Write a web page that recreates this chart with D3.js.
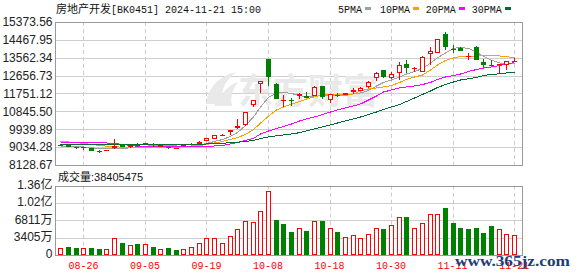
<!DOCTYPE html>
<html><head><meta charset="utf-8">
<script src="https://cdn.jsdelivr.net/npm/d3@7"></script>
<style>body{margin:0;background:#fff}svg{display:block}</style>
</head><body>
<svg id="c" width="578" height="276"></svg>
<script>
// ---------- data ----------
const dates = ["08-21","08-22","08-23","08-26","08-27","08-28","08-29","08-30",
"09-02","09-03","09-04","09-05","09-06","09-09","09-10","09-11","09-12","09-13","09-18","09-19","09-20","09-23","09-24","09-25","09-26","09-27","09-30",
"10-08","10-09","10-10","10-11","10-14","10-15","10-16","10-17","10-18","10-21","10-22","10-23","10-24","10-25","10-28","10-29","10-30","10-31",
"11-01","11-04","11-05","11-06","11-07","11-08","11-11","11-12","11-13","11-14","11-15","11-18","11-19","11-20","11-21"];
const open  = [9090,9157,9020,8975,8990,8830,8823,8975,9190,9025,9150,9195,9190,9040,9030,8960,9115,9210,9190,9345,9460,9640,9820,9990,10140,11169,12216,
13500,12233,11380,11440,11625,11610,11625,12131,11422,11690,11675,11812,11893,12065,12522,12942,12522,12806,
13230,13040,12855,13737,13818,14766,14020,14040,13600,14100,13360,13190,13170,13180,13400];
const high  = [9150,9170,9030,9050,9000,8880,8910,9430,9210,9150,9240,9260,9240,9145,9040,9000,9175,9230,9360,9520,9650,9690,9920,10445,10830,11440,12400,
13520,12260,11675,11540,11780,11840,12110,12150,11740,11760,11780,12015,12060,12365,12820,12960,12855,13362,
13448,13110,13630,14122,14510,14882,14208,14100,13800,14150,13480,13470,13260,13400,13565];
const low   = [9070,9040,8930,8905,8845,8755,8815,8960,9040,9010,9040,9180,9050,9025,8945,8950,9100,9150,9180,9330,9440,9600,9650,9970,10120,11052,11761,
12131,11460,11082,11120,11470,11510,11610,11475,11255,11590,11660,11725,11880,12050,12385,12550,12510,12435,
12775,12855,12840,13195,13800,13955,13787,13890,13450,13430,13090,13140,12790,12940,13330];
const close = [9130,9056,9000,9040,8855,8810,8905,9090,9056,9140,9125,9240,9125,9140,8985,8980,9160,9170,9310,9497,9635,9665,9905,10105,10815,11422,12385,
12602,11488,11420,11400,11725,11540,12096,11590,11726,11660,11760,11929,12045,12350,12806,12572,12740,13195,
13028,13060,13615,13904,14497,14122,13985,13920,13650,13450,13170,13150,13240,13380,13423];
const prevClose = 9080;
const volume = [13.2,15.9,13.9,13.9,13.9,11.9,11.2,33.0,23.8,19.2,21.8,21.2,15.9,11.2,13.9,9.9,11.2,15.2,23.1,33.0,33.0,23.1,37.0,50.9,66.8,64.8,86.6,
126.3,69.4,61.5,45.6,52.9,47.6,66.8,67.4,52.9,45.6,35.0,39.0,33.0,41.0,52.9,51.6,58.8,74.7,
75.4,52.9,62.8,80.6,80.6,93.2,63.5,53.5,51.6,53.5,43.6,56.8,50.9,41.0,38.405475]; // millions
const ma5  = [9066,9066,9051,9041,9001,8965,8940,8940,8965,9001,9041,9077,9117,9132,9117,9092,9082,9092,9132,9218,9320,9421,9573,9776,10130,10561,11068,
11549,11777,11802,11751,11650,11574,11599,11650,11675,11650,11701,11726,11777,11903,12131,12309,12435,12587,
12739,12866,13018,13290,13560,13803,14031,14097,14031,13854,13626,13440,13297,13246,13246];
const ma10 = [9305,9294,9269,9218,9168,9117,9082,9051,9031,9016,9001,8990,8990,9001,9016,9031,9051,9082,9117,9168,9244,9320,9421,9522,9674,9928,10250,
10600,10916,11068,11220,11346,11473,11574,11675,11726,11700,11650,11726,11878,11979,12030,12081,12157,12309,
12461,12587,12689,12942,13195,13423,13550,13626,13651,13651,13677,13677,13651,13626,13550];
const ma20 = [9279,9279,9279,9269,9259,9244,9244,9218,9168,9117,9077,9066,9066,9056,9056,9056,9056,9056,9066,9077,9092,9117,9193,9269,9370,9472,9700,
9852,9978,10080,10206,10358,10460,10561,10688,10814,10916,11017,11118,11220,11422,11625,11827,11929,12030,
12081,12131,12207,12309,12461,12587,12663,12739,12866,12967,13043,13094,13170,13246,13322];
const ma30 = [9185,9183,9181,9180,9179,9178,9178,9178,9178,9178,9178,9178,9178,9178,9178,9178,9178,9178,9183,9193,9208,9229,9259,9279,9320,9370,9472,
9548,9609,9649,9700,9766,9852,9953,10054,10156,10257,10358,10460,10561,10688,10814,10941,11068,11194,
11346,11523,11701,11878,12055,12207,12334,12435,12496,12562,12663,12714,12749,12790,12825];
const priceTickLabels = ["8128.67","9034.28","9939.89","10845.50","11751.12","12656.73","13562.34","14467.95","15373.56"];
const volTickValues = [0, 34.05, 68.11, 102.16, 136.22];
const volTickLabels = ["0","3405万","6811万","1.02亿","1.36亿"];
const xTickLabels = ["08-26","09-05","09-19","10-08","10-18","10-30","11-11","11-21"];
const titleName = "房地产开发", titleRest = "[BK0451] 2024-11-21 15:00";
const volTitle = "成交量", volLastText = ":38405475";
const legendNames = ["5PMA","10PMA","20PMA","30PMA"];
const maSeries = [ma5, ma10, ma20, ma30];

// ---------- layout / style ----------
const L = 55.5, R = 522.5, PT = 22, PB = 165, VT = 185.7, VB = 255;
const RED = "#ff0000", GREEN = "#008000";
const maColors = ["#a0a0a0","#f5a300","#ff00ff","#006b35"];
const svg = d3.select("#c");

const x = d3.scaleBand().domain(dates).range([56.5, 518]);
const bw = x.bandwidth();
const cx = d => Math.round(x(d) + bw / 2);
const priceVals = priceTickLabels.map(Number);
const y = d3.scaleLinear().domain([priceVals[0], priceVals[priceVals.length-1]]).range([PB, PT]);
const yv = d3.scaleLinear().domain([0, volTickValues[volTickValues.length-1]]).range([VB, VT]);

// grids
function hgrid(vals, sc) {
  svg.append("g").selectAll("line").data(vals).join("line")
    .attr("x1", L).attr("x2", R)
    .attr("y1", d => Math.round(sc(d)) + 0.5).attr("y2", d => Math.round(sc(d)) + 0.5)
    .attr("stroke", "#cfcfcf").attr("stroke-width", 1);
}
hgrid(priceVals.slice(1, -1), y);
hgrid(volTickValues.slice(1, -1), yv);
[[PT, PB], [VT, VB]].forEach(([t, b]) => {
  svg.append("g").selectAll("line").data(xTickLabels).join("line")
    .attr("x1", d => cx(d) + 0.5).attr("x2", d => cx(d) + 0.5)
    .attr("y1", t).attr("y2", b)
    .attr("stroke", "#cccccc").attr("stroke-dasharray", "4,3");
});

// watermark
const wm = svg.append("g").attr("fill", "#e9e9e9");
wm.append("path").attr("d", "M206,104 C208,88 218,76 236,72 C226,80 220,90 222,104 Z M214,106 C222,92 230,84 238,82 C232,90 230,98 232,106 Z");
wm.append("text").attr("x", 238).attr("y", 104).attr("font-family", "'Noto Sans CJK SC'")
  .attr("font-weight", "bold").attr("font-size", 35).text("东方财富");

// MA lines
maSeries.forEach((s, k) => {
  svg.append("path").datum(s)
    .attr("d", d3.line().x((v, i) => cx(dates[i]) + 0.5).y(v => y(v)))
    .attr("fill", "none").attr("stroke", maColors[k]).attr("stroke-width", 1)
    .attr("shape-rendering", "crispEdges");
});

// candles
const cg = svg.append("g").attr("shape-rendering", "crispEdges");
dates.forEach((d, i) => {
  const c = cx(d), o = open[i], cl = close[i];
  const up = cl >= o, col = up ? RED : GREEN;
  const top = Math.round(y(Math.max(o, cl))), bot = Math.round(y(Math.min(o, cl)));
  const hi = Math.round(y(high[i])), lo = Math.round(y(low[i]));
  if (bot - top < 2) {
    cg.append("line").attr("x1", c + 0.5).attr("x2", c + 0.5).attr("y1", hi).attr("y2", lo).attr("stroke", col);
    cg.append("rect").attr("x", c - 2).attr("y", top).attr("width", 5).attr("height", Math.max(1, bot - top)).attr("fill", col);
  } else if (up) {
    cg.append("line").attr("x1", c + 0.5).attr("x2", c + 0.5).attr("y1", hi).attr("y2", top).attr("stroke", col);
    cg.append("line").attr("x1", c + 0.5).attr("x2", c + 0.5).attr("y1", bot).attr("y2", lo).attr("stroke", col);
    cg.append("rect").attr("x", c - 1.5).attr("y", top + 0.5).attr("width", 4).attr("height", bot - top - 1)
      .attr("fill", "#fff").attr("stroke", col);
  } else {
    cg.append("line").attr("x1", c + 0.5).attr("x2", c + 0.5).attr("y1", hi).attr("y2", lo).attr("stroke", col);
    cg.append("rect").attr("x", c - 2).attr("y", top).attr("width", 5).attr("height", bot - top).attr("fill", col);
  }
});

// volume bars
const vg = svg.append("g").attr("shape-rendering", "crispEdges");
dates.forEach((d, i) => {
  const c = cx(d), pc = i === 0 ? prevClose : close[i - 1];
  const up = close[i] >= pc;
  const top = Math.round(yv(volume[i]));
  if (up) vg.append("rect").attr("x", c - 1.5).attr("y", top + 0.5).attr("width", 4).attr("height", VB - top - 1)
    .attr("fill", "#fff").attr("stroke", RED);
  else vg.append("rect").attr("x", c - 2).attr("y", top).attr("width", 5).attr("height", VB - top).attr("fill", GREEN);
});

// borders
[[PT, PB], [VT, VB]].forEach(([t, b]) => {
  svg.append("rect").attr("x", L).attr("y", t + 0.5).attr("width", R - L).attr("height", b - t)
    .attr("fill", "none").attr("stroke", "#999999").attr("shape-rendering", "crispEdges");
});

// axes
const ay = svg.append("g").attr("transform", `translate(${L},0)`)
  .call(d3.axisLeft(y).tickValues(priceVals).tickFormat((d, i) => priceTickLabels[i]).tickSize(0).tickPadding(3));
ay.select(".domain").remove();
ay.selectAll("text").attr("font-family", "'Liberation Sans', Arial, sans-serif").attr("font-size", 12).attr("fill", "#222");

const av = svg.append("g").attr("transform", `translate(${L},-1)`)
  .call(d3.axisLeft(yv).tickValues(volTickValues).tickFormat((d, i) => volTickLabels[i]).tickSize(0).tickPadding(3));
av.select(".domain").remove();
av.selectAll("text").attr("font-family", "'Liberation Sans','Noto Sans CJK SC', sans-serif").attr("font-size", 12).attr("fill", "#222");

const ax = svg.append("g").attr("transform", `translate(0,${VB})`)
  .call(d3.axisBottom(x).tickValues(xTickLabels).tickSize(0).tickPadding(7));
ax.select(".domain").remove();
ax.selectAll("text").attr("font-family", "'Liberation Mono', monospace").attr("font-size", 10).attr("fill", RED);

// title
const t = svg.append("text").attr("x", 56).attr("y", 13).attr("fill", "#111");
t.append("tspan").attr("font-family", "'Noto Sans CJK SC'").attr("font-size", 11).text(titleName);
t.append("tspan").attr("font-family", "'Liberation Mono', monospace").attr("font-size", 10).text(titleRest);

// legend
const lx = [338, 380, 425.7, 471.7], sx = [365, 413, 459, 505];
legendNames.forEach((n, k) => {
  svg.append("text").attr("x", lx[k]).attr("y", 13).attr("font-family", "'Liberation Mono', monospace")
    .attr("font-size", 10).attr("fill", "#111").text(n);
  svg.append("rect").attr("x", sx[k]).attr("y", 7).attr("width", 6).attr("height", 3).attr("fill", maColors[k]);
});

// volume title
const vt = svg.append("text").attr("x", 58).attr("y", 181).attr("fill", "#111");
vt.append("tspan").attr("font-family", "'Noto Sans CJK SC'").attr("font-size", 11).text(volTitle);
vt.append("tspan").attr("font-family", "'Liberation Sans', sans-serif").attr("font-size", 11).text(volLastText);

// site watermark
svg.append("text").attr("x", 455).attr("y", 266).attr("font-family", "'Liberation Serif', serif")
  .attr("font-weight", "bold").attr("font-size", 15).attr("fill", "#1f3c7a")
  .attr("textLength", 115).attr("lengthAdjust", "spacingAndGlyphs").text("www.365jz.com");
</script>
</body></html>
